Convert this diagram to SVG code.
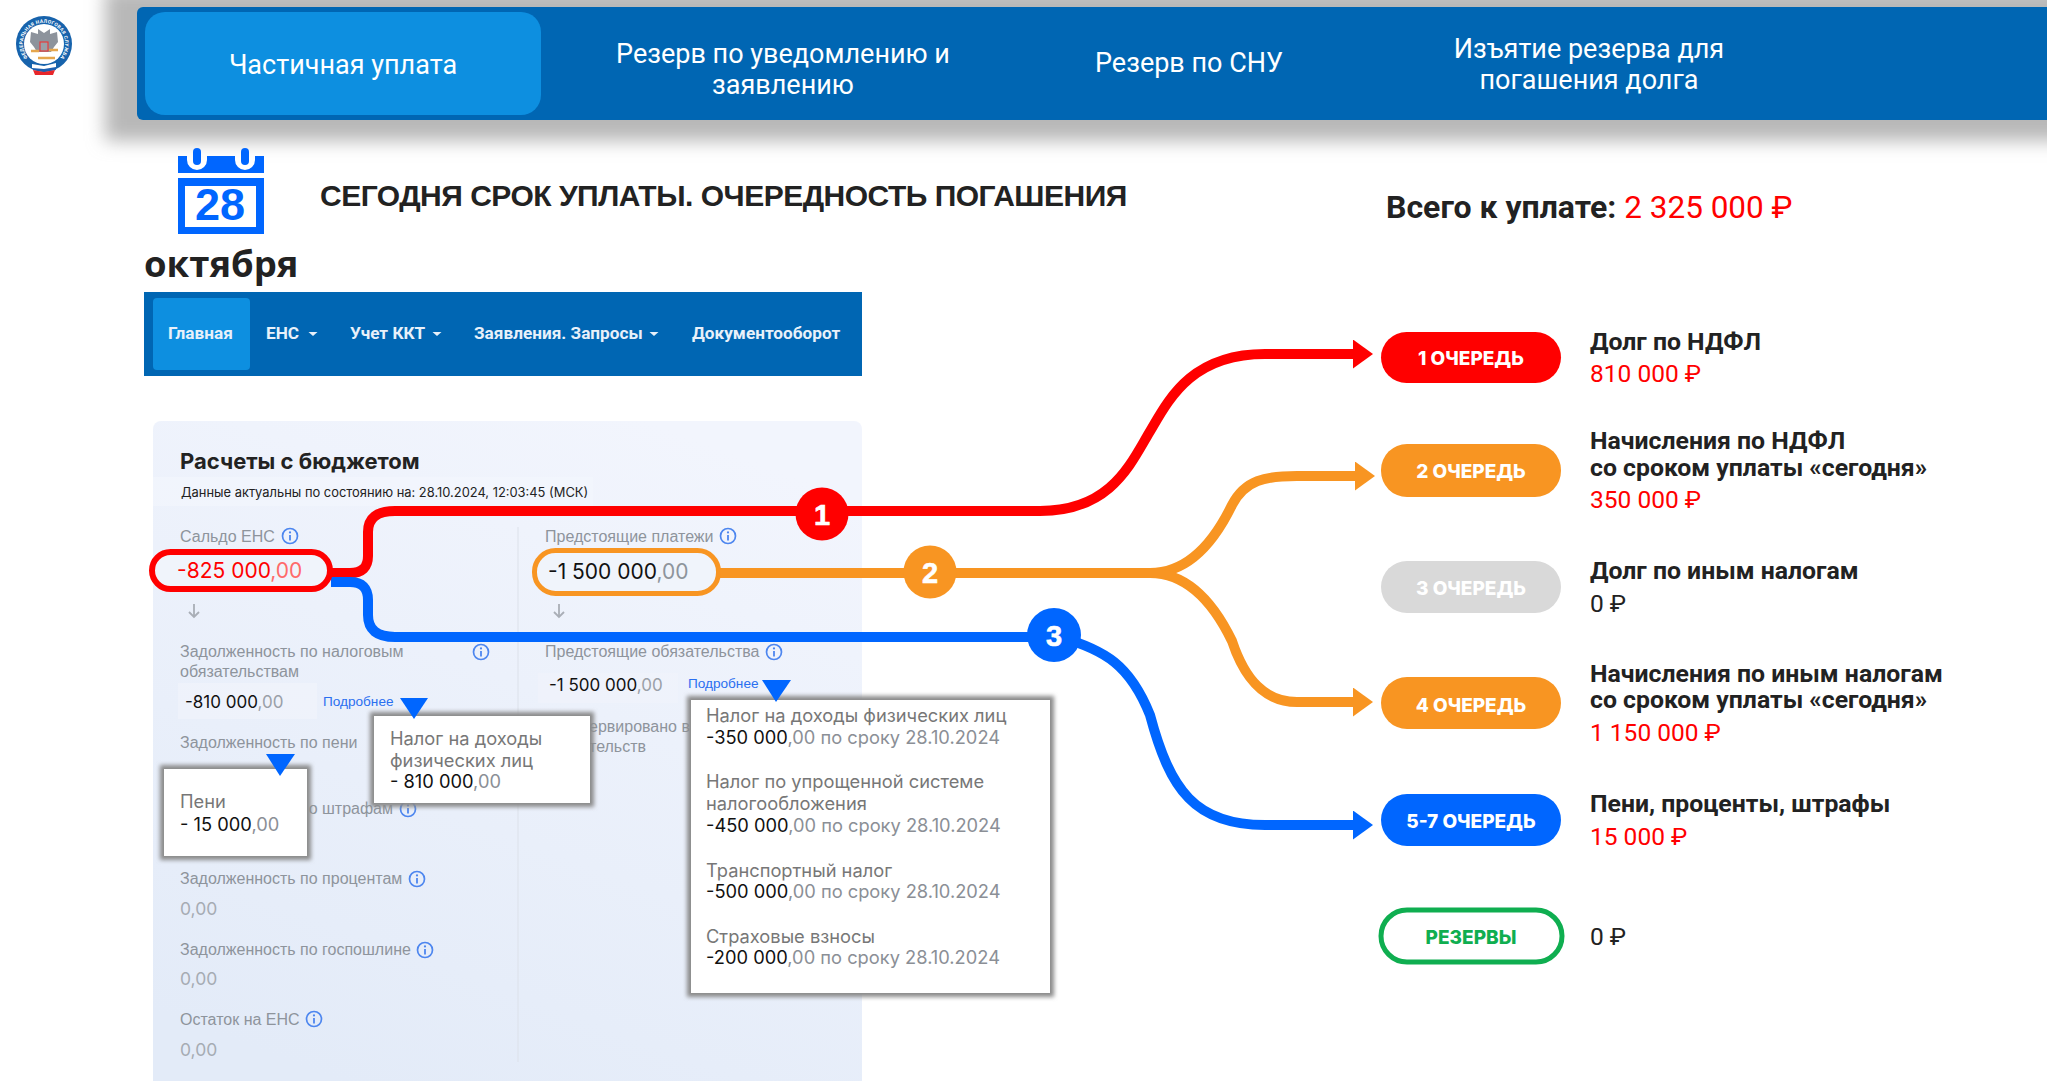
<svg xmlns="http://www.w3.org/2000/svg" width="2047" height="1081" viewBox="0 0 2047 1081">
<style>
text{font-family:"Roboto","Liberation Sans",sans-serif}
.tab{font-size:27px;fill:#fff;text-anchor:middle}
.nav{font-size:17.2px;font-weight:700;fill:#e8f1fa}
.lab{font-family:"Liberation Sans",sans-serif;font-size:16px;fill:#8e949c}
.val{font-family:"Inter","Liberation Sans",sans-serif;font-size:17px;fill:#111}
.dim{fill:#9aa0a8}
.zero{font-family:"Inter",sans-serif;font-size:17.5px;fill:#a6abb3}
.more{font-family:"Liberation Sans",sans-serif;font-size:13.6px;fill:#2a6ff0}
.pop{font-family:"Inter","Liberation Sans",sans-serif;font-size:18.3px;fill:#777}
.pop tspan.n{fill:#111}
.pop tspan.d{fill:#8b8f96}
.pill{font-family:"Inter",sans-serif;font-size:19px;font-weight:800;fill:#fff;text-anchor:middle}
.h{font-size:24.8px;font-weight:700;fill:#222}
.a{font-size:24.5px;fill:#f00}
.z{font-size:24.5px;fill:#222}
.num{font-family:"Liberation Sans",sans-serif;font-size:29px;font-weight:700;fill:#fff;stroke:#fff;stroke-width:.6;text-anchor:middle}
.wire{fill:none;stroke-width:10}
.tri{fill:#0066ff}
.pshadow{fill:#8a8a8a;filter:url(#b2)}
.pbox{fill:#fff}
</style>
<defs>
<filter id="b8" x="-10%" y="-30%" width="120%" height="160%"><feGaussianBlur stdDeviation="9"/></filter>
<filter id="b2" x="-10%" y="-10%" width="120%" height="120%"><feGaussianBlur stdDeviation="2.2"/></filter>
<linearGradient id="pg" x1="0.7" y1="0" x2="0.3" y2="1"><stop offset="0" stop-color="#f2f5fd"/><stop offset="1" stop-color="#e3ebf8"/></linearGradient>
<marker id="mr" viewBox="0 0 20 29" refX="0" refY="14.5" markerWidth="20" markerHeight="29" markerUnits="userSpaceOnUse" orient="auto"><path d="M0 0L20 14.5L0 29Z" fill="#f00"/></marker>
<marker id="mo" viewBox="0 0 20 29" refX="0" refY="14.5" markerWidth="20" markerHeight="29" markerUnits="userSpaceOnUse" orient="auto"><path d="M0 0L20 14.5L0 29Z" fill="#f89522"/></marker>
<marker id="mb" viewBox="0 0 20 29" refX="0" refY="14.5" markerWidth="20" markerHeight="29" markerUnits="userSpaceOnUse" orient="auto"><path d="M0 0L20 14.5L0 29Z" fill="#0066ff"/></marker>
<g id="info"><circle r="7.5" fill="none" stroke="#4d86ef" stroke-width="1.7"/><path d="M0-1V4.5" stroke="#4d86ef" stroke-width="1.8"/><circle cy="-3.6" r="1.1" fill="#4d86ef"/></g>
<path id="down" d="M0 0V13M-5 8L0 13L5 8" fill="none" stroke="#a9aeb6" stroke-width="1.8"/>
<path id="caret" d="M-4.5 0H4.5L0 4Z" fill="#e8f1fa"/>
<path id="logoarc" d="M44 65.2A21.2 21.2 0 1 1 44.01 65.2"/>
</defs>

<rect id="page" width="2047" height="1081" fill="#fff"/>

<g id="logo">
<circle cx="44" cy="44" r="28" fill="#1763ac"/>
<circle cx="44" cy="44" r="20" fill="#fff"/>
<text font-size="4.9" font-weight="700" fill="#fff" text-anchor="middle" letter-spacing=".3"><textPath href="#logoarc" startOffset="50%">ФЕДЕРАЛЬНАЯ НАЛОГОВАЯ СЛУЖБА</textPath></text>
<path d="M38 29L41 31L44 33L47 31L50 29L50 34L57 32L58 42L54 47L51 52H37L34 47L30 42L31 32L38 34Z" fill="#8d939c"/>
<rect x="40" y="42" width="8" height="9" fill="#9aa0a8" stroke="#e33" stroke-width="1.1"/>
<path d="M31 51H39M49 50H58M38 58H55" stroke="#e5a64d" stroke-width="2.4" fill="none"/>
<path d="M33 67L44 69L55 66L56 70L44 72L33 70Z" fill="#1d5fb0"/>
<path d="M33 70L44 72L55 70L53 75H35Z" fill="#e8262a"/>
<path d="M32 64L44 66L56 63V67L44 69L32 68Z" fill="#fff"/>
</g>

<g id="top-bar">
<rect x="105" y="-12" width="2000" height="153" fill="#b8b8b8" filter="url(#b8)"/>
<rect x="137" y="7" width="1930" height="113" rx="6" fill="#0066b3"/>
</g>
<g id="tab-1"><rect x="145" y="12" width="396" height="103" rx="20" fill="#0d8fe0"/><text class="tab" x="343" y="74">Частичная уплата</text></g>
<g id="tab-2"><text class="tab" x="783" y="63">Резерв по уведомлению и</text><text class="tab" x="783" y="94">заявлению</text></g>
<g id="tab-3"><text class="tab" x="1189" y="72">Резерв по СНУ</text></g>
<g id="tab-4"><text class="tab" x="1589" y="58">Изъятие резерва для</text><text class="tab" x="1589" y="89">погашения долга</text></g>

<g id="calendar">
<path d="M178 156H187V160A10 10 0 0 0 207 160V156H235V160A10 10 0 0 0 255 160V156H264V173H178Z" fill="#0066ff"/>
<rect x="193" y="148" width="8" height="17" rx="4" fill="#0066ff"/>
<rect x="241" y="148" width="8" height="17" rx="4" fill="#0066ff"/>
<path fill-rule="evenodd" d="M178 178H264V234H178ZM185 186V227H256V186Z" fill="#0066ff"/>
<text x="220" y="220" font-size="45" font-weight="700" fill="#0066ff" text-anchor="middle" style="font-family:'Liberation Sans',sans-serif">28</text>
<text x="144" y="277" font-size="36.5" font-weight="700" fill="#222" style="font-family:'Open Sans',sans-serif">октября</text>
</g>

<g id="heading">
<text x="320" y="206" font-size="30" font-weight="700" fill="#222" letter-spacing="-.5" style="font-family:'Liberation Sans',sans-serif">СЕГОДНЯ СРОК УПЛАТЫ. ОЧЕРЕДНОСТЬ ПОГАШЕНИЯ</text>
<text x="1386" y="218" font-size="32" font-weight="700" fill="#222">Всего к уплате: <tspan fill="#f00" font-weight="400" font-size="31.5">2 325 000 ₽</tspan></text>
</g>

<g id="menu">
<rect x="144" y="292" width="718" height="84" fill="#0066b3"/>
<rect x="153" y="298" width="97" height="72" rx="4" fill="#0d8fe0"/>
<text class="nav" x="168" y="339">Главная</text>
<text class="nav" x="266" y="339">ЕНС</text><use href="#caret" x="313" y="332"/>
<text class="nav" x="350" y="339">Учет ККТ</text><use href="#caret" x="437" y="332"/>
<text class="nav" x="474" y="339">Заявления. Запросы</text><use href="#caret" x="654" y="332"/>
<text class="nav" x="692" y="339">Документооборот</text>
</g>

<g id="panel">
<rect x="153" y="421" width="709" height="670" rx="8" fill="url(#pg)"/>
<rect x="153" y="477" width="440" height="29" fill="#f4f7fd" fill-opacity=".6"/>
<rect x="178" y="683" width="139" height="36" fill="#f3f6fc" fill-opacity=".5"/>
<rect x="538" y="673" width="140" height="30" fill="#f1f4fb" fill-opacity=".5"/>
<path d="M518 527V1062" stroke="#dce1ea" stroke-width="1"/>
<text x="180" y="469" font-size="22" font-weight="700" fill="#222" style="font-family:'Inter',sans-serif">Расчеты с бюджетом</text>
<text x="181" y="497" font-size="12.9" fill="#222" style="font-family:'Inter',sans-serif">Данные актуальны по состоянию на: 28.10.2024, 12:03:45 (МСК)</text>
<text class="lab" x="180" y="542">Сальдо ЕНС</text><use href="#info" x="290" y="536"/>
<use href="#down" x="194" y="604"/>
<text class="lab" x="180" y="657">Задолженность по налоговым</text><use href="#info" x="481" y="652"/>
<text class="lab" x="180" y="677">обязательствам</text>
<text class="val" x="185" y="708">-810 000<tspan class="dim">,00</tspan></text>
<text class="more" x="323" y="706">Подробнее</text>
<text class="lab" x="180" y="748">Задолженность по пени</text>
<text class="lab" x="393" y="814" text-anchor="end">о штрафам</text><use href="#info" x="408" y="809"/>
<text class="lab" x="180" y="884">Задолженность по процентам</text><use href="#info" x="417" y="879"/>
<text class="zero" x="180" y="915">0,00</text>
<text class="lab" x="180" y="955">Задолженность по госпошлине</text><use href="#info" x="425" y="950"/>
<text class="zero" x="180" y="985">0,00</text>
<text class="lab" x="180" y="1025">Остаток на ЕНС</text><use href="#info" x="314" y="1019"/>
<text class="zero" x="180" y="1056">0,00</text>
<text class="lab" x="545" y="542">Предстоящие платежи</text><use href="#info" x="728" y="536"/>
<use href="#down" x="559" y="604"/>
<text class="lab" x="545" y="657">Предстоящие обязательства</text><use href="#info" x="774" y="652"/>
<text class="val" x="549" y="691">-1 500 000<tspan class="dim">,00</tspan></text>
<text class="more" x="688" y="688">Подробнее</text>
<text class="lab" x="589" y="732">ервировано в</text>
<text class="lab" x="589" y="752">тельств</text>
</g>

<g id="connectors">
<path class="wire" stroke="#f00" marker-end="url(#mr)" d="M331 573H350Q368 573 368 556V532Q368 511 395 511H1040C1110 511 1130 465 1149 433S1190 354 1265 354H1353"/>
<path class="wire" stroke="#0066ff" d="M331 582H350Q368 582 368 600V615Q368 637 395 637H1060"/>
<path class="wire" stroke="#0066ff" marker-end="url(#mb)" d="M1060 637C1105 650 1130 665 1150 715C1170 790 1195 825 1265 825H1353"/>
<path class="wire" stroke="#f89522" marker-end="url(#mo)" d="M715 573H1150C1190 573 1215 540 1232 505C1245 480 1265 476 1297 476H1355"/>
<path class="wire" stroke="#f89522" marker-end="url(#mo)" d="M1150 573C1190 573 1215 606 1232 641C1245 680 1265 702 1297 702H1353"/>
</g>

<g id="balance"><rect x="152" y="552" width="178" height="37" rx="18.5" fill="#f0f4fb" stroke="#f00" stroke-width="6"/><text x="177" y="578" font-size="21" fill="#f00" style="font-family:'Inter',sans-serif">-825 000<tspan fill="#ff6a6a">,00</tspan></text></g>
<g id="upcoming"><rect x="534.5" y="550.5" width="184" height="43" rx="21" fill="#f0f4fb" stroke="#f89522" stroke-width="5"/><text x="548" y="579" font-size="21" fill="#111" style="font-family:'Inter',sans-serif">-1 500 000<tspan fill="#8e949c">,00</tspan></text></g>

<g id="badge-1"><circle cx="822" cy="514" r="26.5" fill="#f00"/><text class="num" x="822" y="525">1</text></g>
<g id="badge-2"><circle cx="930" cy="572" r="26.5" fill="#f89522"/><text class="num" x="930" y="583">2</text></g>
<g id="badge-3"><circle cx="1054" cy="635" r="27" fill="#0066ff"/><text class="num" x="1054" y="646">3</text></g>

<g id="popup-ndfl">
<rect class="pshadow" x="370" y="712" width="224" height="95"/><rect class="pbox" x="374" y="716" width="216" height="87"/>
<path class="tri" d="M400 698H428L414 719Z"/>
<text class="pop" x="390" y="745">Налог на доходы</text><text class="pop" x="390" y="767">физических лиц</text>
<text class="pop" x="390" y="788"><tspan class="n">- 810 000</tspan><tspan class="d">,00</tspan></text>
</g>
<g id="popup-peni">
<rect class="pshadow" x="160" y="765" width="151" height="95"/><rect class="pbox" x="164" y="769" width="143" height="87"/>
<path class="tri" d="M266 754H295L280 776Z"/>
<text class="pop" x="180" y="808">Пени</text>
<text class="pop" x="180" y="831"><tspan class="n">- 15 000</tspan><tspan class="d">,00</tspan></text>
</g>
<g id="popup-upcoming">
<rect class="pshadow" x="687" y="696" width="367" height="301"/><rect class="pbox" x="691" y="700" width="359" height="293"/>
<path class="tri" d="M762 680H791L776 702Z"/>
<text class="pop" x="706" y="722">Налог на доходы физических лиц</text>
<text class="pop" x="706" y="744"><tspan class="n">-350 000</tspan><tspan class="d">,00 по сроку 28.10.2024</tspan></text>
<text class="pop" x="706" y="788">Налог по упрощенной системе</text>
<text class="pop" x="706" y="810">налогообложения</text>
<text class="pop" x="706" y="832"><tspan class="n">-450 000</tspan><tspan class="d">,00 по сроку 28.10.2024</tspan></text>
<text class="pop" x="706" y="877">Транспортный налог</text>
<text class="pop" x="706" y="898"><tspan class="n">-500 000</tspan><tspan class="d">,00 по сроку 28.10.2024</tspan></text>
<text class="pop" x="706" y="943">Страховые взносы</text>
<text class="pop" x="706" y="964"><tspan class="n">-200 000</tspan><tspan class="d">,00 по сроку 28.10.2024</tspan></text>
</g>

<g id="queue-1"><rect x="1381" y="332" width="180" height="51" rx="25.5" fill="#f00"/><text class="pill" x="1471" y="365">1 ОЧЕРЕДЬ</text>
<text class="h" x="1590" y="350">Долг по НДФЛ</text><text class="a" x="1590" y="382">810 000 ₽</text></g>
<g id="queue-2"><rect x="1381" y="444" width="180" height="53" rx="26" fill="#f89522"/><text class="pill" x="1471" y="478">2 ОЧЕРЕДЬ</text>
<text class="h" x="1590" y="449">Начисления по НДФЛ</text><text class="h" x="1590" y="476">со сроком уплаты «сегодня»</text><text class="a" x="1590" y="508">350 000 ₽</text></g>
<g id="queue-3"><rect x="1381" y="561" width="180" height="52" rx="26" fill="#d9d9d9"/><text class="pill" x="1471" y="595">3 ОЧЕРЕДЬ</text>
<text class="h" x="1590" y="579">Долг по иным налогам</text><text class="z" x="1590" y="612">0 ₽</text></g>
<g id="queue-4"><rect x="1381" y="677" width="180" height="52" rx="26" fill="#f89522"/><text class="pill" x="1471" y="712">4 ОЧЕРЕДЬ</text>
<text class="h" x="1590" y="682">Начисления по иным налогам</text><text class="h" x="1590" y="708">со сроком уплаты «сегодня»</text><text class="a" x="1590" y="741">1 150 000 ₽</text></g>
<g id="queue-5"><rect x="1381" y="794" width="180" height="52" rx="26" fill="#0066ff"/><text class="pill" x="1471" y="828">5-7 ОЧЕРЕДЬ</text>
<text class="h" x="1590" y="812">Пени, проценты, штрафы</text><text class="a" x="1590" y="845">15 000 ₽</text></g>
<g id="reserves"><rect x="1381" y="910" width="181" height="52" rx="26" fill="#fff" stroke="#0fae50" stroke-width="5"/><text class="pill" x="1471" y="944" style="fill:#0fae50">РЕЗЕРВЫ</text>
<text class="z" x="1590" y="945">0 ₽</text></g>
</svg>
